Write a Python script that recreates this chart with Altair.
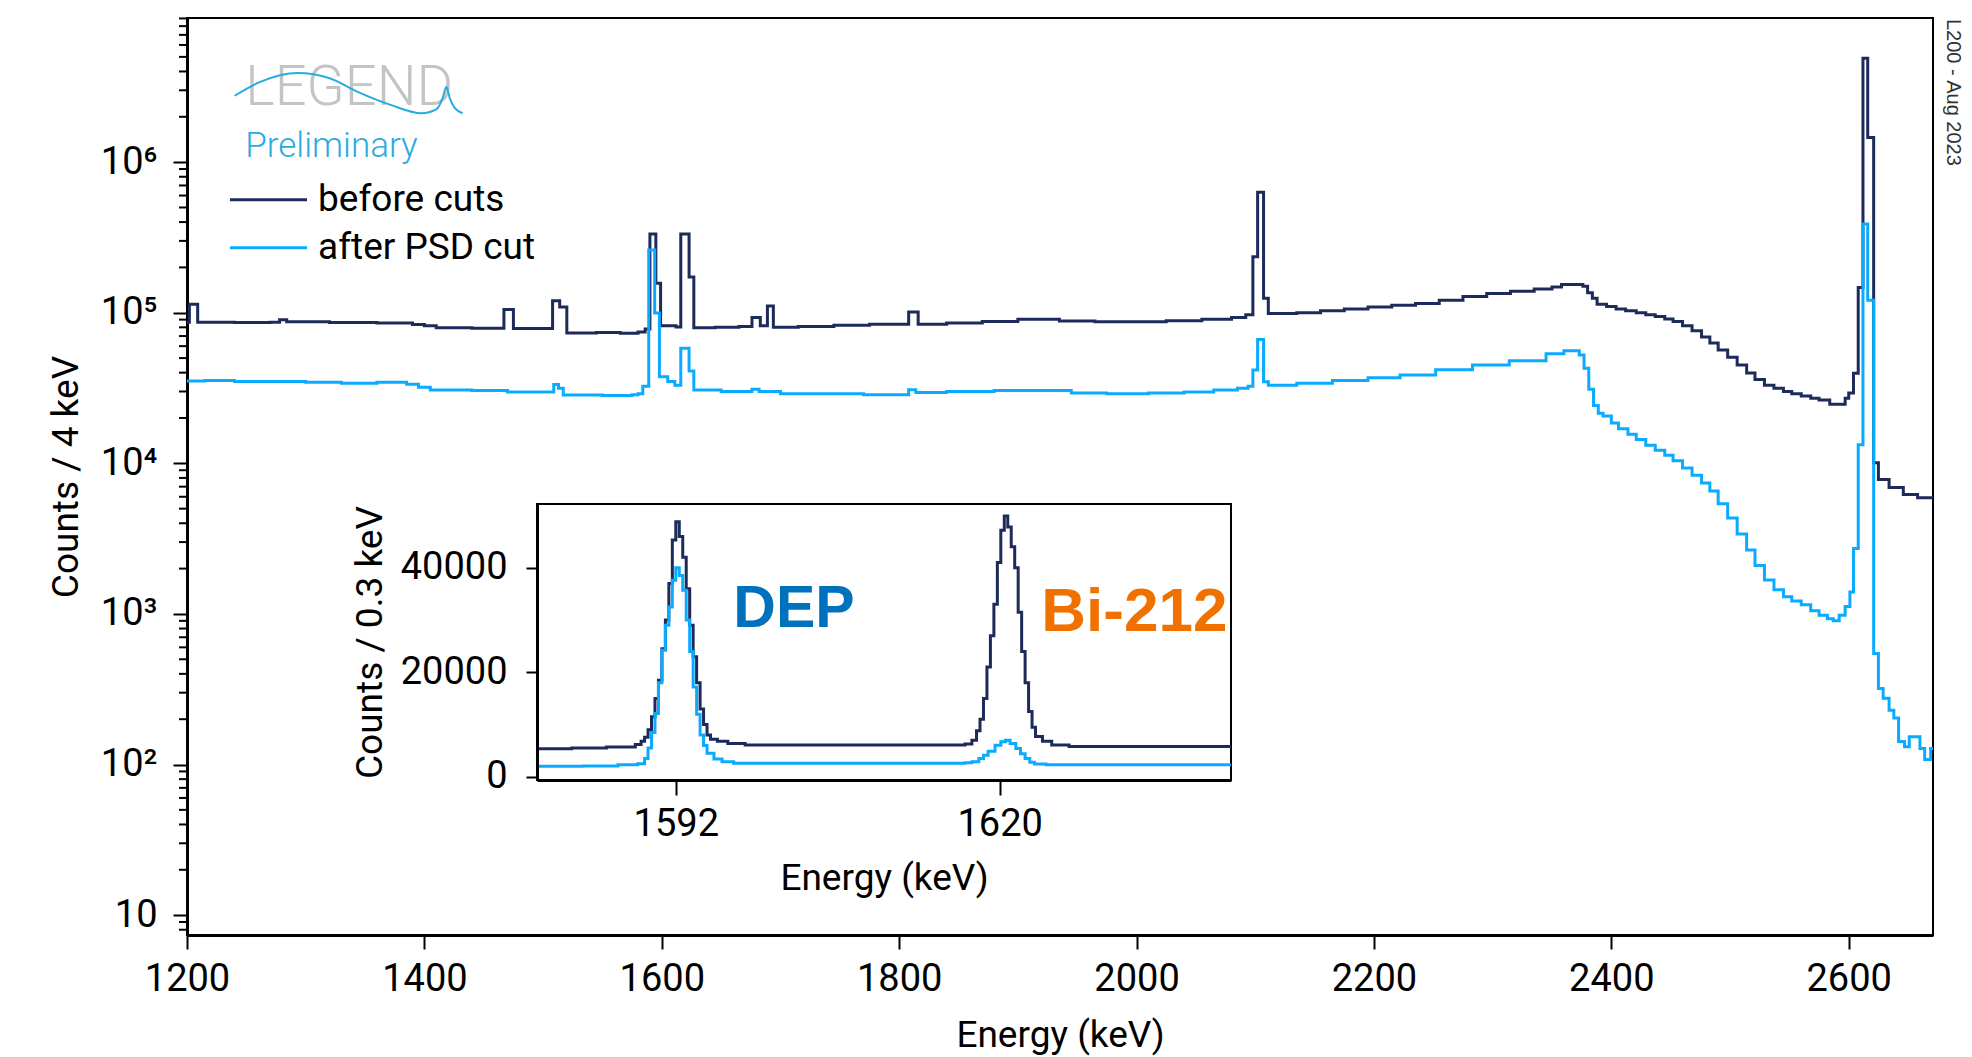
import altair as alt
import pandas as pd

# ---------------- data ----------------
series_names = ["before cuts", "after PSD cut"]
series_colors = ["#1c2b5a", "#0aabff"]

# main spectrum, 4 keV binning: step edges (keV) and counts
before_energy = [1200, 1202, 1209, 1240, 1270, 1278, 1284, 1320, 1360, 1390, 1400, 1410, 1440,
                 1467, 1475, 1508, 1514, 1520, 1545, 1565, 1580, 1586, 1590, 1595, 1599, 1612,
                 1616, 1623, 1627, 1645, 1665, 1676, 1683, 1689, 1694, 1715, 1745, 1775, 1808,
                 1816, 1840, 1870, 1900, 1935, 1965, 1995, 2025, 2055, 2080, 2092, 2098, 2102,
                 2107, 2111, 2135, 2155, 2175, 2195, 2215, 2235, 2255, 2275, 2295, 2315, 2335,
                 2350, 2358, 2376, 2380, 2384, 2388, 2396, 2404, 2412, 2421, 2429, 2437, 2445,
                 2452, 2460, 2468, 2476, 2483, 2490, 2498, 2506, 2514, 2521, 2529, 2537, 2545,
                 2552, 2560, 2568, 2575, 2584, 2597, 2600, 2604, 2608, 2612, 2616, 2621, 2625,
                 2634, 2646, 2658, 2671]
before_counts = [86500, 114000, 86500, 86000, 86500, 90000, 87000, 86000, 85500, 83500, 82000, 79500, 79000,
                 105000, 78500, 120000, 109000, 73500, 74000, 73000, 74500, 78000, 333000, 157000, 82000, 80500,
                 333000, 173000, 79500, 80000, 81000, 93000, 82000, 111000, 80000, 81000, 82500, 84000, 101000,
                 84000, 85500, 87500, 90500, 88000, 87000, 87000, 88500, 90500, 93000, 97000, 235000, 630000,
                 125000, 99000, 100000, 103000, 106000, 109000, 112000, 115000, 121000, 128000, 134000, 139000, 144000,
                 148000, 154000, 150000, 136000, 125000, 114000, 110000, 106000, 103000, 100000, 97000, 94500, 91000,
                 87500, 82000, 76000, 69000, 63000, 56500, 50700, 45000, 39800, 36000, 33000, 31500, 30000,
                 29000, 28000, 27000, 26300, 24700, 27000, 29300, 39700, 147000, 4900000, 1460000, 10100, 7800,
                 6900, 6200, 5900, 5900]

after_energy = [1200, 1215, 1240, 1275, 1300, 1330, 1360, 1385, 1395, 1405, 1440, 1470, 1509,
                1513, 1517, 1550, 1575, 1580, 1584, 1589, 1594, 1598, 1605, 1611, 1616, 1623,
                1627, 1650, 1676, 1682, 1700, 1740, 1770, 1808, 1814, 1840, 1880, 1920, 1945,
                1975, 2010, 2040, 2065, 2085, 2094, 2098, 2102, 2107, 2111, 2135, 2165, 2195,
                2222, 2252, 2283, 2314, 2345, 2360, 2373, 2377, 2381, 2385, 2389, 2393, 2400,
                2406, 2414, 2421, 2429, 2437, 2445, 2452, 2460, 2468, 2476, 2483, 2490, 2498,
                2506, 2514, 2521, 2529, 2537, 2545, 2552, 2560, 2568, 2575, 2582, 2587, 2592,
                2597, 2601, 2604, 2608, 2612, 2616, 2621, 2625, 2629, 2634, 2638, 2642, 2647,
                2651, 2660, 2664, 2669, 2671]
after_counts = [35200, 35500, 35000, 35000, 34500, 34000, 34500, 33500, 32000, 30700, 30400, 29800, 33400,
                31500, 28400, 28200, 28500, 29000, 32500, 261000, 99500, 37600, 35000, 33000, 58000, 41000,
                30700, 30000, 31000, 30000, 29000, 29000, 28500, 30800, 29500, 30000, 30500, 30500, 29300,
                29000, 29300, 29800, 30700, 31500, 32500, 41600, 66500, 34800, 33000, 34000, 35500, 37000,
                38600, 41900, 45000, 48000, 53500, 56000, 52500, 42800, 31000, 24200, 21500, 20600, 18500,
                17000, 15600, 14400, 13200, 12200, 11300, 10400, 9300, 8350, 7400, 6550, 5400, 4330,
                3400, 2660, 2100, 1680, 1450, 1300, 1220, 1150, 1050, 980, 930, 900, 980,
                1120, 1400, 2720, 13300, 388000, 121000, 547, 320, 276, 229, 204, 142, 131,
                153, 128, 108, 128, 128]

# inset spectrum, 0.3 keV binning
inset_before_energy = [1580.0, 1583.0, 1586.0, 1588.5, 1589.0, 1589.3, 1589.6, 1589.9, 1590.2, 1590.5,
                       1590.8, 1591.1, 1591.4, 1591.7, 1592.0, 1592.3, 1592.6, 1592.9, 1593.2, 1593.5,
                       1593.8, 1594.1, 1594.4, 1594.7, 1595.0, 1595.6, 1596.5, 1598.0, 1617.0, 1617.6,
                       1618.0, 1618.3, 1618.6, 1618.9, 1619.2, 1619.5, 1619.8, 1620.1, 1620.4, 1620.7,
                       1621.0, 1621.3, 1621.6, 1621.9, 1622.2, 1622.5, 1622.8, 1623.1, 1623.7, 1624.5,
                       1626.0, 1640.0]
inset_before_counts = [5400, 5500, 5700, 6200, 6800, 7600, 9000, 11500, 15000, 18500,
                       24500, 30000, 37000, 45300, 48800, 46000, 42000, 36000, 29000, 23000,
                       18000, 13000, 10000, 8000, 7200, 6800, 6400, 6100, 6300, 7000,
                       8800, 11000, 15000, 21000, 27000, 33000, 41000, 47200, 49900, 47800,
                       44000, 40000, 31500, 24000, 18000, 12500, 9500, 7700, 6800, 6100,
                       5800, 5800]
inset_after_energy = [1580.0, 1584.0, 1587.0, 1588.7, 1589.3, 1589.6, 1589.9, 1590.2, 1590.5, 1590.8,
                      1591.1, 1591.4, 1591.7, 1592.0, 1592.3, 1592.6, 1592.9, 1593.2, 1593.5, 1593.8,
                      1594.1, 1594.4, 1594.7, 1595.3, 1596.0, 1597.0, 1617.0, 1617.6, 1618.2, 1618.6,
                      1619.0, 1619.6, 1620.1, 1620.5, 1620.9, 1621.4, 1621.8, 1622.2, 1622.6, 1623.0,
                      1624.0, 1640.0]
inset_after_counts = [2050, 2100, 2300, 2500, 3500, 5500, 8500, 12100, 18000, 24200,
                      29000, 32500, 37600, 40000, 38500, 35700, 30000, 24000, 17200, 12000,
                      8000, 6000, 4500, 3400, 2900, 2600, 2700, 2900, 3500, 4150,
                      4900, 6070, 6700, 7000, 6400, 5430, 4400, 3500, 2800, 2450,
                      2300, 2300]

# logo wave (read in energy / counts coordinates of the main plot)
logo_wave_energy = [1240.1, 1261.2, 1293.2, 1320.2, 1343.8, 1372.2, 1397.4, 1410.3, 1415.4, 1418.5,
                    1421.3, 1425.5, 1432.2]
logo_wave_counts = [2.76e6, 3.40e6, 3.91e6, 3.61e6, 2.93e6, 2.39e6, 2.11e6, 2.25e6, 2.67e6, 3.17e6,
                    2.67e6, 2.29e6, 2.11e6]

x_ticks = [1200, 1400, 1600, 1800, 2000, 2200, 2400, 2600]
y_decades = [10, 100, 1000, 10000, 100000, 1000000]
y_decade_labels = ["10", "10²", "10³", "10⁴", "10⁵", "10⁶"]
inset_x_ticks = [1592, 1620]
inset_y_ticks = [0, 20000, 40000]

logo_label = "LEGEND"
prelim_label = "Preliminary"
watermark_label = "L200 - Aug 2023"
peak_labels = ["DEP", "Bi-212"]
peak_colors = ["#0072bd", "#f07000"]

# ---------------- layout ----------------
W, H = 1746, 917
X_DOMAIN = [1200, 2671]
Y_DOMAIN = [7.38, 9.06e6]
IN_X_DOMAIN = [1580, 1640]
IN_Y_DOMAIN = [-600, 52200]
IN_X_RANGE = [350, 1044]
IN_Y_RANGE = [762, 486]

minor_ticks = [m * 10 ** k for k in range(0, 7) for m in range(2, 10)
               if Y_DOMAIN[0] <= m * 10 ** k <= Y_DOMAIN[1]]

label_expr = " : ".join(f"datum.value == {v} ? '{s}'" for v, s in zip(y_decades, y_decade_labels)) + " : ''"

df_before = pd.DataFrame({"energy": before_energy, "counts": before_counts})
df_after = pd.DataFrame({"energy": after_energy, "counts": after_counts})
df_in_before = pd.DataFrame({"energy": inset_before_energy, "counts": inset_before_counts})
df_in_after = pd.DataFrame({"energy": inset_after_energy, "counts": inset_after_counts})
df_wave = pd.DataFrame({"energy": logo_wave_energy, "counts": logo_wave_counts})
df_minor = pd.DataFrame({"counts": minor_ticks})

x_main = alt.X("energy:Q", scale=alt.Scale(domain=X_DOMAIN, nice=False, zero=False),
               axis=alt.Axis(orient="bottom", values=x_ticks, format="d", title="Energy (keV)",
                             tickSize=14, labelPadding=11, titlePadding=19, labelFlush=False))
y_main = alt.Y("counts:Q", scale=alt.Scale(type="log", domain=Y_DOMAIN, nice=False),
               axis=alt.Axis(orient="left", values=y_decades, labelExpr=label_expr,
                             title="Counts / 4 keV", tickSize=14, labelPadding=16,
                             titlePadding=15, labelOverlap=False, labelFlush=False))

dark = alt.Chart(df_before).mark_line(interpolate="step-after", strokeWidth=3,
                                      color=series_colors[0]).encode(x=x_main, y=y_main)
light = alt.Chart(df_after).mark_line(interpolate="step-after", strokeWidth=3,
                                      color=series_colors[1]).encode(x=x_main, y=y_main)

minor = alt.Chart(df_minor).mark_rule(color="black", strokeWidth=2).encode(
    y="counts:Q", x=alt.value(0), x2=alt.value(-8))

logo_text = alt.Chart(pd.DataFrame({"t": [logo_label]})).mark_text(
    align="left", baseline="alphabetic", font="Roboto", fontWeight=300, fontSize=56, color="#c4c4c4"
).encode(x=alt.datum(1249), y=alt.datum(2.39e6), text="t:N")

wave = alt.Chart(df_wave).mark_line(interpolate="monotone", color="#29abe2", strokeWidth=2).encode(
    x="energy:Q", y="counts:Q")

prelim = alt.Chart(pd.DataFrame({"t": [prelim_label]})).mark_text(
    align="left", baseline="alphabetic", font="Roboto", fontWeight=300, fontSize=35, color="#29abe2"
).encode(x=alt.datum(1249), y=alt.datum(1.08e6), text="t:N")

legend_y = [5.62e5, 2.70e5]
legend_layers = []
for name, col, ly in zip(series_names, series_colors, legend_y):
    d = pd.DataFrame({"series": [name]})
    legend_layers.append(alt.Chart(d).mark_rule(color=col, strokeWidth=3).encode(
        x=alt.datum(1236.2), x2=alt.datum(1301.1), y=alt.datum(ly)))
    legend_layers.append(alt.Chart(d).mark_text(
        align="left", baseline="middle", font="Roboto", fontSize=37, color="black"
    ).encode(x=alt.datum(1310.4), y=alt.datum(ly), text="series:N"))

watermark = alt.Chart(pd.DataFrame({"t": [watermark_label]})).mark_text(
    angle=90, align="left", baseline="middle", font="Liberation Sans", fontSize=20, color="#333333"
).encode(x=alt.value(1766), y=alt.value(1), text="t:N")

main_layer = alt.layer(dark, light, minor, logo_text, wave, prelim, *legend_layers, watermark)

# ---------------- inset ----------------
x_in = alt.X("energy:Q",
             scale=alt.Scale(domain=IN_X_DOMAIN, range=IN_X_RANGE, nice=False, zero=False),
             axis=alt.Axis(orient="bottom", offset=-(H - IN_Y_RANGE[0]), values=inset_x_ticks, format="d",
                           title="Energy (keV)", tickSize=15, labelPadding=10, titlePadding=17, zindex=1,
                           labelFlush=False))
y_in = alt.Y("counts:Q",
             scale=alt.Scale(domain=IN_Y_DOMAIN, range=IN_Y_RANGE, nice=False, zero=False),
             axis=alt.Axis(orient="left", offset=-IN_X_RANGE[0], values=inset_y_ticks, format="d",
                           title="Counts / 0.3 keV", tickSize=11, labelPadding=19, titlePadding=11,
                           zindex=1, labelFlush=False))

frame = alt.Chart(pd.DataFrame({"a": [0]})).mark_rect(fill="white", stroke="black", strokeWidth=2).encode(
    x=alt.datum(IN_X_DOMAIN[0]), x2=alt.datum(IN_X_DOMAIN[1]),
    y=alt.datum(IN_Y_DOMAIN[0]), y2=alt.datum(IN_Y_DOMAIN[1]))

in_dark = alt.Chart(df_in_before).mark_line(interpolate="step-after", strokeWidth=3,
                                            color=series_colors[0]).encode(x=x_in, y=y_in)
in_light = alt.Chart(df_in_after).mark_line(interpolate="step-after", strokeWidth=3,
                                            color=series_colors[1]).encode(x=x_in, y=y_in)

dep = alt.Chart(pd.DataFrame({"t": [peak_labels[0]]})).mark_text(
    align="left", baseline="alphabetic", font="Liberation Sans", fontWeight="bold", fontSize=59,
    color=peak_colors[0]).encode(x=alt.datum(1596.97), y=alt.datum(28600), text="t:N")
bi = alt.Chart(pd.DataFrame({"t": [peak_labels[1]]})).mark_text(
    align="left", baseline="alphabetic", font="Liberation Sans", fontWeight="bold", fontSize=62,
    color=peak_colors[1]).encode(x=alt.datum(1623.6), y=alt.datum(28000), text="t:N")

inset_layer = alt.layer(frame, in_dark, in_light, dep, bi)

chart = alt.layer(main_layer, inset_layer).resolve_scale(
    x="independent", y="independent"
).properties(
    width=W, height=H,
    padding={"left": 187, "top": 18, "right": 39, "bottom": 122},
    autosize=alt.AutoSizeParams(type="none"),
).configure_view(
    stroke="black", strokeWidth=2
).configure_axis(
    labelFont="Roboto", titleFont="Roboto", labelFontSize=38, titleFontSize=37,
    titleFontWeight="normal", labelColor="black", titleColor="black",
    domainColor="black", tickColor="black", domainWidth=3, tickWidth=2, grid=False
)

chart.save("out.html", embed_options={"renderer": "svg", "actions": False})
